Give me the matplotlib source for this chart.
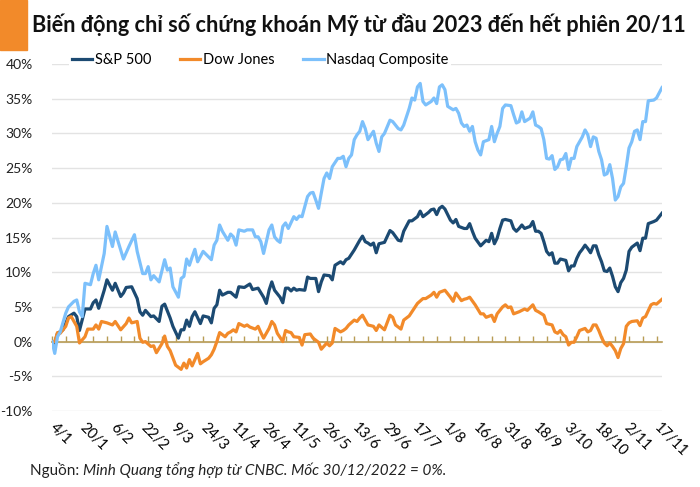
#%%
# Bien dong chi so chung khoan My tu dau 2023 - line chart
import numpy as np
import matplotlib
matplotlib.use('Agg')
import matplotlib.pyplot as plt
import matplotlib.transforms as mtransforms
from matplotlib.ticker import MultipleLocator, FixedLocator, FuncFormatter

plt.rcParams['font.family'] = ['Lato', 'DejaVu Sans']

#%%
# Data: trading-day index (0 = 4/1) and % change since 30/12/2022
spx_days = [0, 1, 2, 4, 6, 8, 9, 10, 12, 14, 15, 16, 17, 19, 20, 22, 23, 25, 26, 27, 29, 31, 32, 33, 34, 36, 37, 39,
            40, 41, 43, 44, 46, 47, 48, 49, 50, 51, 52, 54, 55, 57, 58, 59, 60, 61, 62, 64, 65, 67, 68, 70, 72, 73,
            75, 77, 78, 79, 80, 81, 83, 84, 85, 86, 87, 88, 89, 90, 92, 93, 94, 96, 97, 98, 99, 101, 102, 103, 105,
            106, 107, 108, 110, 111, 112, 113, 114, 115, 116, 117, 118, 119, 121, 123, 124, 126, 127, 128, 130, 131,
            133, 134, 135, 137, 138, 139, 140, 141, 142, 143, 145, 146, 147, 148, 150, 151, 152, 153, 154, 156, 157,
            158, 159, 160, 161, 162, 163, 164, 165, 167, 168, 169, 170, 171, 172, 174, 175, 176, 177, 178, 179, 180,
            181, 182, 183, 184, 185, 186, 187, 188, 189, 190, 191, 192, 193, 194, 195, 196, 197, 198, 199, 200, 201,
            202, 203, 204, 205, 206, 207, 208, 209, 210, 211, 212, 213, 214, 215, 216, 217, 219, 220, 222]
spx_vals = [0.0, -0.2, 1.2, 1.7, 3.6, 4.1, 3.6, 1.6, 4.7, 4.7, 5.6, 6.0, 4.8, 7.4, 8.9, 7.4, 8.4, 6.5, 7.0, 7.8, 7.9,
            6.2, 4.3, 3.8, 4.5, 3.6, 3.7, 2.9, 5.1, 5.4, 3.4, 2.2, 0.5, 1.7, 1.7, 3.1, 2.2, 3.6, 4.3, 2.6, 3.7, 3.5,
            2.7, 4.8, 5.3, 7.4, 6.7, 7.1, 7.1, 6.4, 7.9, 7.8, 8.3, 7.5, 7.7, 6.4, 5.5, 7.4, 8.6, 7.4, 6.4, 5.6, 7.7,
            7.7, 7.3, 7.7, 7.4, 7.5, 7.4, 9.3, 9.1, 9.1, 7.2, 8.6, 9.6, 9.5, 8.9, 11.0, 11.5, 11.2, 11.8, 12.0, 13.2,
            13.9, 14.6, 15.2, 14.4, 14.2, 13.9, 14.2, 12.8, 14.1, 14.3, 16.0, 15.7, 14.6, 14.5, 15.9, 17.4, 17.4,
            18.0, 18.8, 18.0, 18.6, 19.0, 19.1, 18.3, 19.2, 19.5, 19.1, 17.5, 17.1, 17.6, 16.6, 16.3, 16.3, 17.0,
            15.9, 14.9, 13.8, 14.2, 14.6, 14.4, 15.6, 14.1, 14.9, 16.3, 17.5, 17.6, 17.4, 16.3, 15.9, 16.3, 16.8,
            16.3, 16.6, 17.3, 15.9, 15.9, 15.6, 14.4, 13.0, 12.5, 12.8, 11.3, 11.3, 11.9, 11.8, 11.7, 10.2, 10.9,
            10.9, 12.0, 12.8, 13.3, 13.9, 13.4, 12.8, 13.8, 13.8, 12.5, 11.5, 10.2, 10.1, 10.6, 9.4, 7.9, 7.2, 8.5,
            9.1, 10.3, 13.0, 13.6, 13.9, 14.2, 13.1, 14.9, 14.9, 17.0, 17.3, 17.5, 18.5]

dow_days = [0, 1, 2, 3, 5, 6, 7, 9, 10, 12, 13, 15, 16, 17, 18, 20, 22, 23, 25, 27, 28, 29, 31, 32, 33, 34, 36, 37,
            38, 40, 41, 42, 43, 45, 47, 48, 49, 50, 51, 53, 54, 55, 57, 58, 59, 60, 61, 63, 64, 65, 66, 67, 68, 70,
            71, 72, 74, 75, 76, 77, 79, 80, 81, 82, 84, 85, 86, 87, 88, 90, 91, 92, 94, 95, 97, 98, 100, 101, 102,
            103, 105, 106, 107, 108, 110, 111, 112, 113, 114, 115, 116, 117, 118, 119, 121, 123, 124, 125, 127, 128,
            130, 131, 133, 135, 136, 138, 139, 140, 141, 143, 145, 146, 147, 149, 150, 151, 152, 154, 156, 157, 158,
            160, 161, 162, 164, 165, 166, 167, 168, 170, 171, 172, 173, 175, 176, 177, 179, 180, 181, 182, 183, 184,
            185, 186, 187, 188, 189, 190, 191, 192, 194, 195, 196, 197, 198, 199, 200, 201, 202, 203, 204, 205, 206,
            207, 208, 209, 210, 211, 213, 214, 215, 216, 218, 219, 220, 222]
dow_vals = [0.0, 0.0, 1.3, 1.2, 2.2, 3.4, 3.6, 2.2, -0.2, 0.7, 1.8, 1.8, 2.4, 1.8, 2.9, 2.7, 2.4, 2.9, 1.7, 2.6, 3.4,
            2.7, 2.9, 0.5, -0.1, 0.0, -0.7, -0.6, -1.6, -0.3, 0.8, -0.7, -1.3, -3.4, -4.0, -3.1, -3.8, -2.6, -3.5,
            -1.7, -3.2, -2.9, -2.4, -1.9, -1.1, 0.0, 1.3, 0.7, 1.2, 1.4, 1.7, 1.4, 2.6, 2.2, 2.4, 2.1, 1.8, 2.2, 1.3,
            0.5, 1.9, 2.9, 2.4, 1.2, 0.0, 1.6, 1.4, 1.3, 0.7, 0.6, -0.5, 1.0, 1.1, 0.5, -0.1, -1.1, -0.2, -0.6, -0.2,
            1.9, 1.4, 1.6, 1.9, 2.4, 3.1, 2.9, 3.4, 3.8, 3.1, 2.4, 2.3, 2.2, 1.6, 2.4, 1.7, 3.8, 3.5, 2.4, 1.8, 3.1,
            3.7, 4.3, 5.5, 6.2, 6.2, 6.7, 7.1, 6.4, 7.1, 7.4, 6.4, 5.8, 7.0, 5.9, 6.1, 6.2, 6.4, 5.3, 4.0, 4.0, 3.5,
            3.8, 2.9, 4.0, 5.0, 5.3, 4.9, 5.0, 4.0, 4.3, 4.5, 4.7, 4.5, 5.3, 4.5, 4.3, 3.8, 2.6, 2.5, 2.4, 1.4, 1.2,
            1.6, 1.0, 0.7, -0.5, -0.1, -0.1, 0.7, 1.6, 1.9, 1.4, 1.6, 2.4, 2.4, 1.6, 0.6, -0.2, -0.6, -0.2, -0.7,
            -1.3, -2.3, -1.0, -0.3, 2.2, 2.7, 2.9, 3.0, 2.3, 3.4, 3.6, 5.3, 5.5, 5.4, 6.1]

ndq_days = [0, 1, 2, 3, 5, 6, 8, 9, 10, 11, 12, 14, 15, 16, 17, 19, 20, 22, 23, 25, 26, 28, 30, 31, 33, 34, 35, 36,
            37, 39, 41, 42, 43, 44, 46, 47, 48, 49, 50, 51, 52, 53, 55, 57, 58, 59, 60, 61, 62, 64, 65, 66, 67, 68,
            70, 71, 73, 74, 75, 76, 77, 78, 79, 80, 81, 82, 83, 84, 85, 86, 88, 89, 90, 91, 93, 94, 95, 96, 97, 98,
            99, 100, 101, 102, 104, 105, 106, 107, 108, 109, 110, 111, 112, 113, 114, 115, 117, 118, 119, 120, 121,
            123, 124, 126, 127, 128, 130, 131, 132, 133, 134, 135, 136, 138, 139, 140, 141, 142, 143, 144, 146, 147,
            148, 149, 150, 151, 152, 153, 154, 155, 156, 157, 159, 160, 161, 162, 163, 164, 165, 167, 168, 169, 170,
            171, 172, 174, 175, 176, 177, 178, 179, 180, 181, 182, 183, 184, 185, 186, 187, 188, 189, 190, 191, 192,
            193, 194, 195, 196, 197, 198, 199, 200, 201, 202, 203, 204, 205, 206, 207, 208, 209, 210, 211, 212, 213,
            214, 215, 216, 217, 219, 220, 222]
ndq_vals = [0.0, -1.7, 0.7, 1.4, 4.1, 5.0, 5.8, 6.0, 4.3, 3.6, 8.4, 8.2, 9.8, 11.0, 8.9, 12.7, 16.6, 13.7, 15.8, 13.2,
            11.9, 13.7, 15.4, 13.0, 9.8, 9.8, 10.8, 8.9, 9.5, 8.6, 11.8, 10.3, 10.6, 7.9, 6.4, 9.1, 9.4, 11.9, 11.0,
            12.2, 13.3, 11.5, 13.0, 12.2, 11.8, 13.9, 14.6, 16.8, 15.9, 14.6, 15.5, 15.1, 13.9, 16.1, 15.9, 16.1,
            16.1, 15.1, 15.1, 14.4, 12.7, 14.4, 16.1, 16.8, 15.1, 14.6, 14.3, 16.6, 17.1, 16.3, 18.0, 17.6, 18.1,
            18.0, 20.9, 21.4, 21.5, 20.4, 19.2, 21.4, 23.5, 24.3, 23.5, 25.2, 26.4, 26.4, 26.7, 25.2, 26.4, 26.9,
            29.1, 29.8, 30.3, 31.7, 30.7, 29.1, 30.3, 28.6, 27.4, 29.5, 30.0, 31.9, 31.7, 30.7, 30.5, 31.2, 33.6,
            35.1, 34.8, 36.7, 37.2, 34.6, 34.1, 34.6, 35.1, 34.3, 36.7, 37.0, 36.3, 33.9, 33.4, 33.6, 32.9, 31.5,
            31.0, 31.2, 30.3, 31.0, 28.8, 27.6, 26.9, 28.8, 29.1, 31.0, 28.8, 30.0, 31.0, 33.6, 34.1, 34.0, 32.7,
            31.5, 31.7, 33.1, 31.7, 32.2, 33.1, 31.2, 31.0, 30.7, 29.1, 26.4, 26.3, 26.8, 24.8, 25.2, 26.2, 26.3,
            27.1, 24.8, 26.4, 26.4, 28.1, 28.8, 29.5, 30.5, 29.8, 28.1, 29.5, 29.3, 27.4, 26.2, 24.0, 24.2, 25.5,
            23.5, 20.4, 20.9, 22.3, 22.8, 25.2, 27.9, 28.8, 30.3, 30.5, 29.1, 31.7, 31.7, 34.7, 34.8, 35.1, 36.6]

date_labels = ['4/1', '20/1', '6/2', '22/2', '9/3', '24/3', '11/4', '26/4', '11/5', '26/5', '13/6',
               '29/6', '17/7', '1/8', '16/8', '31/8', '18/9', '3/10', '18/10', '2/11', '17/11']
label_step = 11

SPX_COLOR = '#1c4a72'
DOW_COLOR = '#f28a2a'
NDQ_COLOR = '#7cc0fb'
AXIS_COLOR = '#b89c55'

#%%
# Figure
fig = plt.figure(figsize=(7, 4.87), dpi=100)
ax = fig.add_axes([52/700, 76/487, 610/700, 347/487])

ax.plot(spx_days, spx_vals, color=SPX_COLOR, lw=2.3, label='S&P 500', solid_joinstyle='round')
ax.plot(dow_days, dow_vals, color=DOW_COLOR, lw=2.3, label='Dow Jones', solid_joinstyle='round')
ax.plot(ndq_days, ndq_vals, color=NDQ_COLOR, lw=2.3, label='Nasdaq Composite', solid_joinstyle='round')

ax.set_xlim(0, max(spx_days))
ax.set_ylim(-10, 40)

# y axis
ax.yaxis.set_major_locator(MultipleLocator(5))
ax.yaxis.set_major_formatter(FuncFormatter(lambda v, p: f'{v:.0f}%'))
ax.tick_params(axis='y', length=0, pad=14, labelsize=10, labelcolor='#222222')
ax.grid(axis='y', color='#e3e3e3', lw=1)
ax.set_axisbelow(True)
for s in ['left', 'right', 'top']:
    ax.spines[s].set_visible(False)

# category axis crossing at 0 with small upward ticks
ax.spines['bottom'].set_position(('data', 0))
ax.spines['bottom'].set_color(AXIS_COLOR)
ax.spines['bottom'].set_linewidth(1.2)
ax.spines['bottom'].set_zorder(1.5)
ax.xaxis.set_major_locator(MultipleLocator(5))
ax.tick_params(axis='x', direction='in', length=4, width=1, color=AXIS_COLOR, labelbottom=False)

# date labels along the bottom
sec = ax.secondary_xaxis('bottom')
sec.xaxis.set_major_locator(FixedLocator([i * label_step for i in range(len(date_labels))]))
sec.set_xticklabels(date_labels, rotation=-45, ha='left', va='top', fontsize=10.5)
sec.tick_params(length=0, pad=7)
sec.spines['bottom'].set_visible(False)
shift = mtransforms.ScaledTranslation(-5/100, 0, fig.dpi_scale_trans)
for lbl in sec.get_xticklabels():
    lbl.set_transform(lbl.get_transform() + shift)

# legend
leg = ax.legend(loc='center left', bbox_to_anchor=(69/700, 1 - 60/487), bbox_transform=fig.transFigure,
                ncol=3, frameon=True, fontsize=10.5, handlelength=1.4, handletextpad=0.15,
                columnspacing=2.0, borderpad=0.2, borderaxespad=0)
leg.get_frame().set_facecolor('white')
leg.get_frame().set_edgecolor('none')
leg.get_frame().set_alpha(1)

# title block
fig.patches.append(plt.Rectangle((0, 1 - 50/487), 27/700, 50/487, transform=fig.transFigure,
                                 color='#f28a2a', zorder=0))
fig.text(32/700, 1 - 25/487, 'Biến động chỉ số chứng khoán Mỹ từ đầu 2023 đến hết phiên 20/11',
         fontsize=15.6, fontweight='bold', color='#111111', va='center', ha='left')

# source
src = fig.text(30/700, 1 - 470/487, 'Nguồn: ', fontsize=11, color='#222222', va='center', ha='left')
ax.annotate('Minh Quang tổng hợp từ CNBC. Mốc 30/12/2022 = 0%.', xy=(1, 0.5), xycoords=src,
            fontsize=11, style='italic', color='#222222', va='center', ha='left', annotation_clip=False)

fig.savefig('out.png', dpi=100)
